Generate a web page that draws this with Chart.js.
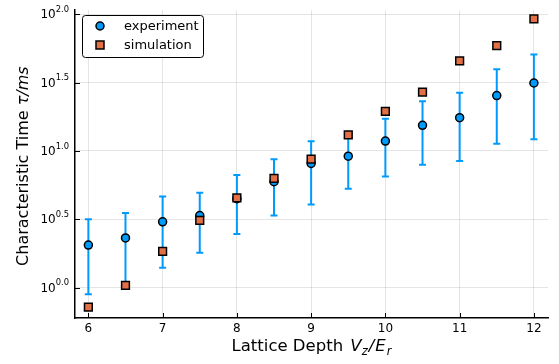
<!DOCTYPE html>
<html>
<head>
<meta charset="utf-8">
<script src="https://cdn.jsdelivr.net/npm/chart.js@4/dist/chart.umd.min.js"></script>
<style>
  html, body { margin: 0; padding: 0; background: #fff; }
  #wrap { width: 559px; height: 364px; }
</style>
</head>
<body>
<div id="wrap"><canvas id="c" width="559" height="364"></canvas></div>
<script>
// ---- data (characteristic time in ms) --------------------------------------
const depths     = [6, 6.5, 7, 7.5, 8, 8.5, 9, 9.5, 10, 10.5, 11, 11.5, 12];
const experiment = [2.05, 2.31, 3.03, 3.37, 4.47, 5.96, 8.11, 9.16, 11.8, 15.4, 17.5, 25.4, 31.4];
const errHigh    = [3.17, 3.51, 4.65, 4.94, 6.67, 8.71, 11.75, 13.2, 17.2, 23.1, 26.7, 39.6, 50.8];
const errLow     = [0.895, 1.02, 1.40, 1.80, 2.47, 3.37, 4.05, 5.28, 6.49, 7.93, 8.43, 11.3, 12.2];
const simulation = [0.721, 1.04, 1.84, 3.11, 4.53, 6.31, 8.71, 13.1, 19.5, 26.9, 45.5, 59.0, 92.3];

const xTicks    = [6, 7, 8, 9, 10, 11, 12];
const yTickExps = ['0.0', '0.5', '1.0', '1.5', '2.0'];

const BLUE   = 'rgb(0,154,250)';
const ORANGE = 'rgb(227,111,71)';
const FONT   = '"DejaVu Sans", sans-serif';

// ---- error bars, drawn under the markers -----------------------------------
const errorBars = {
  id: 'errorBars',
  beforeDatasetsDraw(chart) {
    const { ctx, scales: { x, y } } = chart;
    ctx.save();
    ctx.strokeStyle = BLUE;
    ctx.lineWidth = 2;
    for (let i = 0; i < depths.length; i++) {
      const px = x.getPixelForValue(depths[i]);
      const top = y.getPixelForValue(errHigh[i]);
      const bot = y.getPixelForValue(errLow[i]);
      ctx.beginPath();
      ctx.moveTo(px, top); ctx.lineTo(px, bot);
      ctx.moveTo(px - 3.5, top); ctx.lineTo(px + 3.5, top);
      ctx.moveTo(px - 3.5, bot); ctx.lineTo(px + 3.5, bot);
      ctx.stroke();
    }
    ctx.restore();
  },
};

// draw a run of {t, italic, sub, sup, gap} pieces starting at (x0, y0)
function drawRich(ctx, parts, size, x0, y0, measureOnly) {
  let x = x0;
  for (const p of parts) {
    const s = (p.sub || p.sup) ? size * 0.7 : size;
    ctx.font = (p.italic ? 'italic ' : '') + s + 'px ' + FONT;
    const dy = p.sub ? size * 0.3 : (p.sup ? -size * 0.45 : 0);
    if (!measureOnly) ctx.fillText(p.t, x, y0 + dy);
    x += ctx.measureText(p.t).width + (p.gap || 0);
  }
  return x - x0;
}

// ---- tick labels, inward tick marks, titles, legend -------------------------
const decor = {
  id: 'decor',
  afterDraw(chart) {
    const { ctx, chartArea: a, scales: { x, y } } = chart;
    ctx.save();
    ctx.fillStyle = '#000';
    ctx.textBaseline = 'middle';

    // y tick labels as 10^e
    for (const e of yTickExps) {
      const py = y.getPixelForValue(Math.pow(10, Number(e)));
      const parts = [{ t: '10' }, { t: e, sup: true }];
      const w = drawRich(ctx, parts, 12, 0, 0, true);
      drawRich(ctx, parts, 12, a.left - 6 - w, py + 1, false);
    }

    // inward tick marks
    ctx.strokeStyle = '#000';
    ctx.lineWidth = 1;
    ctx.beginPath();
    for (const e of yTickExps) {
      const py = Math.round(y.getPixelForValue(Math.pow(10, Number(e)))) + 0.5;
      ctx.moveTo(a.left, py); ctx.lineTo(a.left + 5, py);
    }
    for (const v of xTicks) {
      const px = Math.round(x.getPixelForValue(v)) + 0.5;
      ctx.moveTo(px, a.bottom); ctx.lineTo(px, a.bottom - 5);
    }
    ctx.stroke();

    // x title
    const xt = [
      { t: 'Lattice Depth ', gap: 2 },
      { t: 'V', italic: true }, { t: 'z', italic: true, sub: true, gap: 1 },
      { t: '/', italic: true, gap: 1 }, { t: 'E', italic: true, gap: 1 },
      { t: 'r', italic: true, sub: true },
    ];
    const xw = drawRich(ctx, xt, 16.5, 0, 0, true);
    drawRich(ctx, xt, 16.5, (a.left + a.right) / 2 - xw / 2, 347, false);

    // y title (rotated)
    const yt = [{ t: 'Characteristic Time ' }, { t: 'τ/ms', italic: true }];
    const yw = drawRich(ctx, yt, 16, 0, 0, true);
    ctx.save();
    ctx.translate(24, (a.top + a.bottom) / 2 + 2);
    ctx.rotate(-Math.PI / 2);
    drawRich(ctx, yt, 16, -yw / 2, 0, false);
    ctx.restore();

    // legend box
    const lx = 82, ly = 15, lw = 121, lh = 42;
    ctx.beginPath();
    ctx.roundRect(lx + 0.5, ly + 0.5, lw, lh, 3);
    ctx.fillStyle = '#fff';
    ctx.fill();
    ctx.strokeStyle = '#000';
    ctx.lineWidth = 1;
    ctx.stroke();

    const items = [
      { label: chart.data.datasets[0].label, shape: 'circle', color: BLUE, cy: ly + 11 },
      { label: chart.data.datasets[1].label, shape: 'rect', color: ORANGE, cy: ly + 30 },
    ];
    for (const it of items) {
      ctx.beginPath();
      if (it.shape === 'circle') ctx.arc(lx + 18, it.cy, 4, 0, Math.PI * 2);
      else ctx.rect(lx + 14, it.cy - 4, 8, 8);
      ctx.fillStyle = it.color;
      ctx.fill();
      ctx.lineWidth = 1.5;
      ctx.strokeStyle = '#000';
      ctx.stroke();
      ctx.fillStyle = '#000';
      ctx.font = '13px ' + FONT;
      ctx.fillText(it.label, lx + 42, it.cy + 1);
    }
    ctx.restore();
  },
};

new Chart(document.getElementById('c'), {
  type: 'scatter',
  data: {
    datasets: [
      {
        label: 'experiment',
        data: depths.map((d, i) => ({ x: d, y: experiment[i] })),
        pointStyle: 'circle',
        pointRadius: 4,
        backgroundColor: BLUE,
        borderColor: '#000',
        borderWidth: 1.5,
        order: 2,
      },
      {
        label: 'simulation',
        data: depths.map((d, i) => ({ x: d, y: simulation[i] })),
        pointStyle: 'rect',
        pointRadius: 5.5,
        backgroundColor: ORANGE,
        borderColor: '#000',
        borderWidth: 1.5,
        order: 1,
      },
    ],
  },
  options: {
    responsive: false,
    animation: false,
    events: [],
    layout: { padding: { top: 8, right: 11, left: 0, bottom: 0 } },
    plugins: { legend: { display: false }, tooltip: { enabled: false } },
    scales: {
      x: {
        type: 'linear',
        min: 5.82,
        max: 12.19,
        afterBuildTicks: s => { s.ticks = xTicks.map(v => ({ value: v })); },
        afterFit: s => { s.height = 46; },
        grid: { color: 'rgba(0,0,0,0.1)', drawTicks: false },
        border: { color: '#000', width: 1.5 },
        ticks: { color: '#000', font: { family: FONT, size: 12 }, padding: 4 },
      },
      y: {
        type: 'logarithmic',
        min: 0.621,
        max: 107,
        afterBuildTicks: s => { s.ticks = yTickExps.map(e => ({ value: Math.pow(10, Number(e)) })); },
        afterFit: s => { s.width = 75; },
        grid: { color: 'rgba(0,0,0,0.1)', drawTicks: false },
        border: { color: '#000', width: 1.5 },
        ticks: { callback: () => '' },
      },
    },
  },
  plugins: [errorBars, decor],
});
</script>
</body>
</html>
